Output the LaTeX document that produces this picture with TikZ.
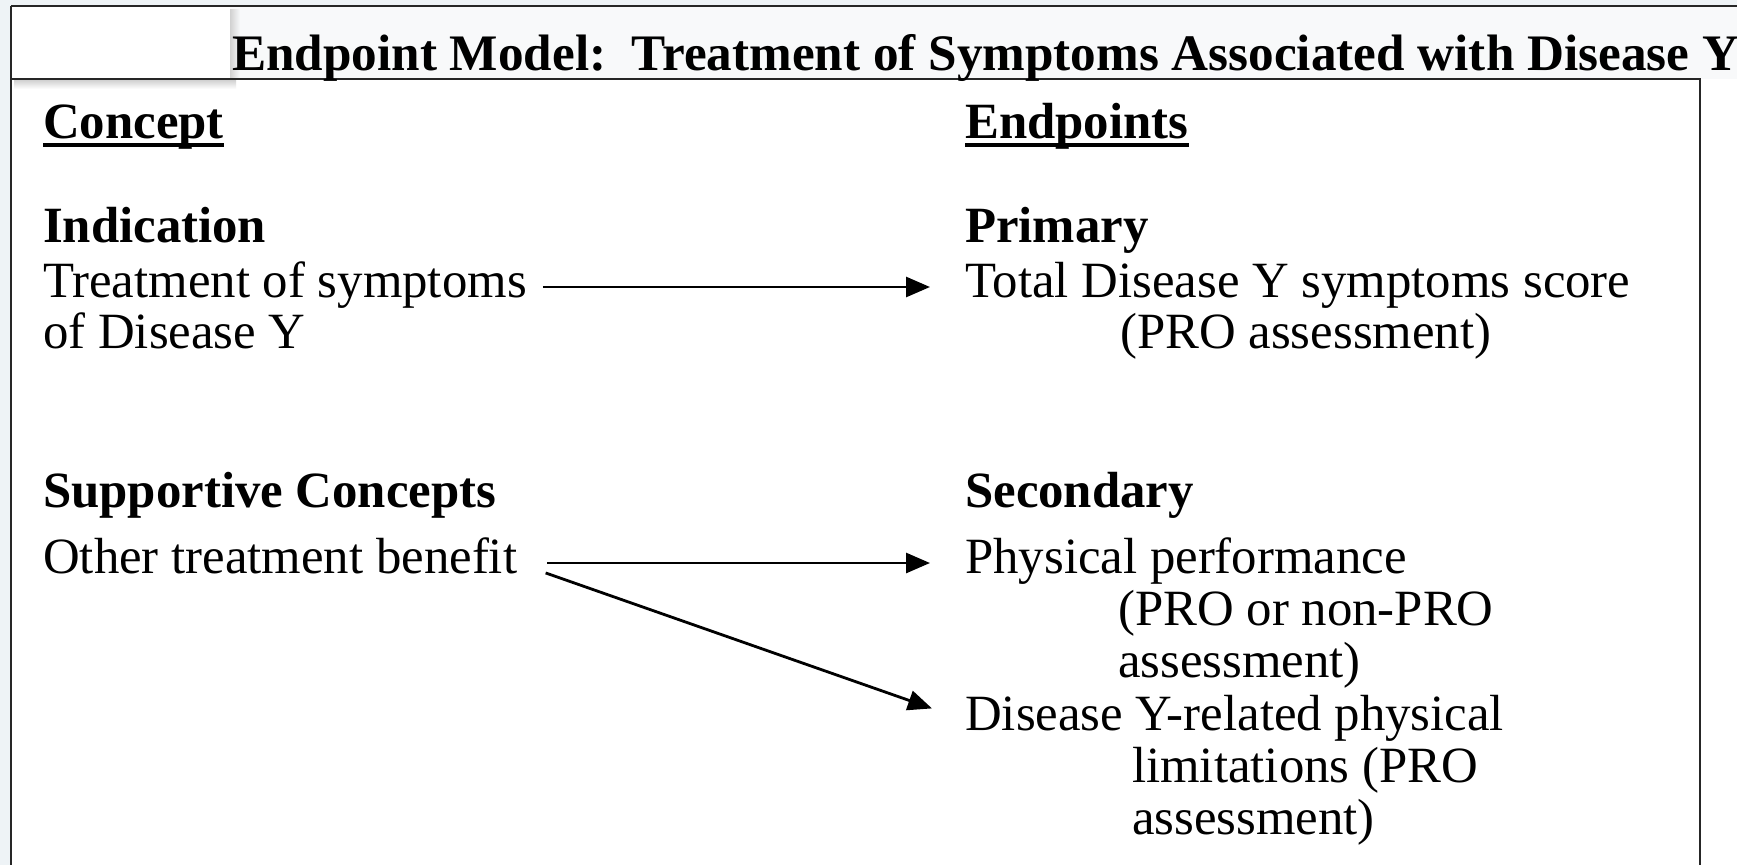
\documentclass[tikz,border=0pt]{standalone}
\usepackage{fontspec}
\setmainfont{Liberation Serif}
\usetikzlibrary{arrows.meta,calc}
\definecolor{outerbg}{RGB}{238,243,246}
\definecolor{titlebg}{RGB}{248,249,250}
\tikzset{
	txt/.style={anchor=base west, inner sep=0pt, text height=33pt, text depth=13pt, font=\fontsize{50.8}{52}\selectfont},
	hdr/.style={txt, font=\fontsize{50.8}{52}\selectfont\bfseries},
	arr/.style={line width=2.8pt, -{Triangle[length=24pt,width=20pt]}},
	frame/.style={line width=2.5pt, color=black!85},
	uline/.style={line width=3.8pt},
}

\begin{document}
\begin{tikzpicture}[x=1pt, y=-1pt]
			%%%%% START %%%%%
			\useasboundingbox (0, 0) rectangle (1737, 865);
			
			\fill[outerbg] (0, 0) rectangle (1737, 865);
			\fill[white] (11, 6) rectangle (1737, 865);
			\fill[titlebg] (11, 6) rectangle (1737, 79);
			
			% tab with shadow
			\shade[left color=black!18, right color=titlebg] (230, 9) rectangle (240, 79);
			\shade[top color=black!20, bottom color=white] (14, 79) rectangle (236, 89);
			\fill[white] (11, 6) rectangle (230, 79);
			
			\draw[frame] (11, 6) -- (1737, 6);
			\draw[frame] (11, 6) -- (11, 865);
			\draw[frame] (11, 79) -- (1700, 79) -- (1700, 865);
			
			\node[hdr, font=\fontsize{51.2}{52}\selectfont\bfseries] (title) at (232, 70) {Endpoint Model:\ \ Treatment of Symptoms Associated with Disease Y};
			
			% left column
			\node[hdr] (concept) at (43, 138) {Concept};
			\draw[uline] ($(concept.base west)+(0, 7)$) -- ($(concept.base east)+(0, 7)$);
			\node[hdr] (indication) at (43, 242) {Indication};
			\node[txt] (treat) at (43, 297) {Treatment of symptoms};
			\node[txt] (treat2) at (43, 348) {of Disease Y};
			\node[hdr] (supportive) at (43, 507) {Supportive Concepts};
			\node[txt] (other) at (43, 573) {Other treatment benefit};
			
			% right column
			\node[hdr] (endpoints) at (965, 138) {Endpoints};
			\draw[uline] ($(endpoints.base west)+(0, 7)$) -- ($(endpoints.base east)+(0, 7)$);
			\node[hdr] (primary) at (965, 242) {Primary};
			\node[txt] (total) at (965, 297) {Total Disease Y symptoms score};
			\node[txt] (total2) at (1120, 348) {(PRO assessment)};
			\node[hdr] (secondary) at (965, 507) {Secondary};
			\node[txt] (physical) at (965, 573) {Physical performance};
			\node[txt] (physical2) at (1118, 625) {(PRO or non-PRO};
			\node[txt] (physical3) at (1118, 677) {assessment)};
			\node[txt] (disease) at (965, 730) {Disease Y-related physical};
			\node[txt] (disease2) at (1132, 782) {limitations (PRO};
			\node[txt] (disease3) at (1132, 834) {assessment)};
			
			\draw[arr, shorten <=16pt, shorten >=35pt] (treat.east) -- (total.west);
			\draw[arr, shorten <=30pt, shorten >=35pt] (other.east) -- (physical.west);
			\draw[arr, shorten <=30pt, shorten >=35pt] (other.east) -- (disease.west);
			
			%%%%% END %%%%%
\end{tikzpicture}
\end{document}
